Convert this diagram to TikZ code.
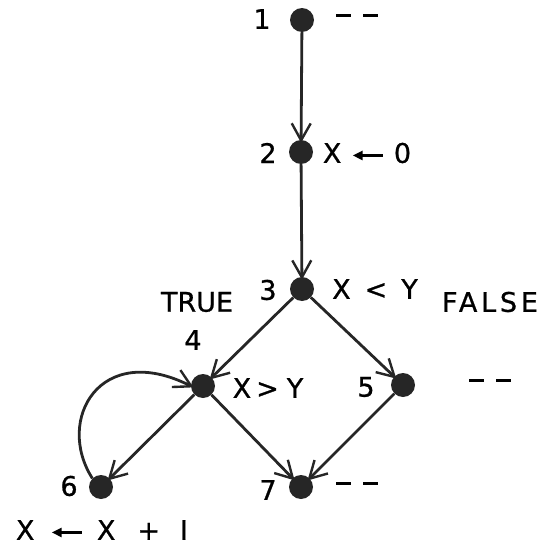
\documentclass[tikz,border=0pt]{standalone}
\usepackage{fontspec}
\setmainfont[FakeBold=0.8]{DejaVu Sans}
\usetikzlibrary{arrows.meta}
\newcommand{\larr}{\tikz[baseline=-0.5ex]\draw[line width=2.5pt,-{Triangle[length=10pt,width=9pt]}] (30pt,0) -- (0,0);}
\newcommand{\dsh}{\rule[0.32em]{15pt}{2.8pt}}
\begin{document}
\begin{tikzpicture}[x=1pt,y=-1pt,
  dot/.style={circle,fill=black!85,inner sep=0pt,minimum size=24pt},
  lbl/.style={inner sep=0pt,font=\fontsize{27}{32}\selectfont},
  edge/.style={line width=2.8pt,black!85,-{Straight Barb[length=17pt,width=19pt,line width=2.4pt]},shorten >=-3pt}]
\useasboundingbox (0,0) rectangle (558,549);
\node[dot] (n1) at (302,20) {};
\node[dot] (n2) at (301,152) {};
\node[dot] (n3) at (302,289) {};
\node[dot] (n4) at (203,386) {};
\node[dot] (n5) at (403,385) {};
\node[dot] (n6) at (101,487) {};
\node[dot] (n7) at (301,487) {};
\node[lbl] (l1) at (262,19) {1};
\node[lbl] (d1) at (357,20) {\dsh\hspace{12pt}\dsh};
\node[lbl] (l2) at (268,153) {2};
\node[lbl] (t2) at (367,153) {X\hspace{10pt}\larr\hspace{10pt}0};
\node[lbl] (l3) at (268,290) {3};
\node[lbl] (t3) at (375,289) {X\hspace{14pt}<\hspace{14pt}Y};
\node[lbl] (tf) at (490,302) {\addfontfeature{LetterSpace=14}FALSE};
\node[lbl] (tt) at (197,302) {TRUE};
\node[lbl] (l4) at (193,340) {4};
\node[lbl] (t4) at (268,388) {X\hspace{5pt}>\hspace{8pt}Y};
\node[lbl] (l5) at (366,387) {5};
\node[lbl] (d5) at (490,385) {\dsh\hspace{12pt}\dsh};
\node[lbl] (l6) at (69,486) {6};
\node[lbl] (l7) at (268,490) {7};
\node[lbl] (d7) at (357,488) {\dsh\hspace{12pt}\dsh};
\node[lbl] (t6) at (102,530) {X\hspace{16pt}\larr\hspace{14pt}X\hspace{22pt}+\hspace{20pt}I};
\draw[edge] (n1) -- (n2);
\draw[edge] (n2) -- (n3);
\draw[edge] (n3) -- (n4);
\draw[edge] (n3) -- (n5);
\draw[edge] (n4) -- (n6);
\draw[edge] (n4) -- (n7);
\draw[edge] (n5) -- (n7);
\draw[edge] (n6.north west) .. controls (55,420) and (100,340) .. (n4.west);
\end{tikzpicture}
\end{document}
